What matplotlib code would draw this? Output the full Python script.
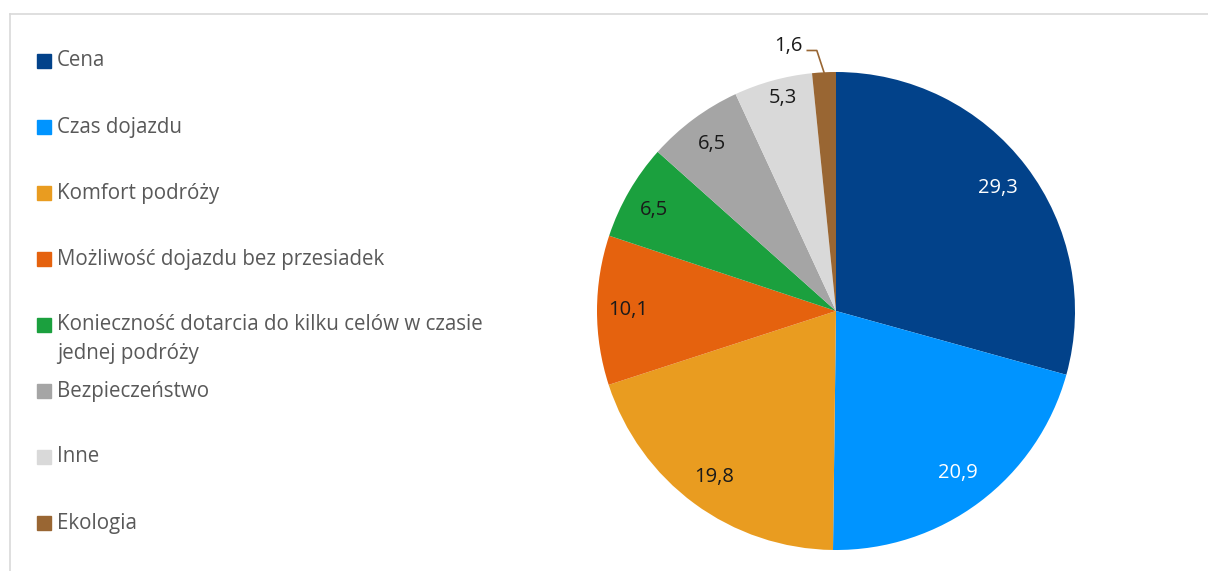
import matplotlib.pyplot as plt
from matplotlib.patches import Rectangle
from matplotlib.lines import Line2D
import numpy as np

plt.rcParams['font.family'] = ['Open Sans', 'DejaVu Sans']

categories = ["Cena", "Czas dojazdu", "Komfort podróży", "Możliwość dojazdu bez przesiadek",
              "Konieczność dotarcia do kilku celów w czasie\njednej podróży", "Bezpieczeństwo",
              "Inne", "Ekologia"]
values = [29.3, 20.9, 19.8, 10.1, 6.5, 6.5, 5.3, 1.6]
value_labels = ["29,3", "20,9", "19,8", "10,1", "6,5", "6,5", "5,3", "1,6"]
colors = ["#02428a", "#0094ff", "#e99c20", "#e5620e", "#1ba03e", "#a5a5a5", "#d9d9d9", "#996633"]
label_colors = ["white", "white", "#1a1a1a", "#1a1a1a", "#1a1a1a", "#1a1a1a", "#1a1a1a", "#1a1a1a"]
# label placement (fraction of radius); None = outside with leader line
label_radius = [0.85, 0.85, 0.86, 0.87, 0.87, 0.87, 0.92, None]
label_shift = [0, 0, 0, 0, 1, 0, -1.4, 0]

W, H = 1208, 571
fig = plt.figure(figsize=(W / 100, H / 100), dpi=100)

# pie: centre (836, 311), radius 239 px
cx, cy, R = 836, 311, 239
ax = fig.add_axes([(cx - R) / W, (H - cy - R) / H, 2 * R / W, 2 * R / H])
wedges, _ = ax.pie(values, colors=colors, startangle=90, counterclock=False, radius=1)
ax.set_xlim(-1, 1)
ax.set_ylim(-1, 1)
ax.set_aspect('equal')
ax.axis('off')

for w, lab, col, r, sh in zip(wedges, value_labels, label_colors, label_radius, label_shift):
    mid = np.deg2rad((w.theta1 + w.theta2) / 2 + sh)
    if r is None:
        # small slice: label outside with leader line
        x0, y0 = np.cos(mid), np.sin(mid)
        ax.plot([x0, x0 - 0.03, -0.12], [y0, 1.09, 1.09], color=w.get_facecolor(), lw=1.2,
                clip_on=False)
        ax.text(-0.14, 1.11, lab, ha='right', va='center', fontsize=14.5, color=col)
    else:
        ax.text(r * np.cos(mid), r * np.sin(mid), lab, ha='center', va='center',
                fontsize=14.5, color=col)

# legend drawn by hand
leg_y = [61, 127, 193, 259, 325, 391, 457, 523]
for y, cat, c in zip(leg_y, categories, colors):
    fig.add_artist(Rectangle((37 / W, (H - y - 7) / H), 14 / W, 14 / H, color=c,
                             transform=fig.transFigure))
    for i, line in enumerate(cat.split('\n')):
        fig.text(57 / W, (H - y - 28 * i) / H, line, ha='left', va='center',
                 fontsize=14.8, color='#595959')

# chart border (top and left only visible)
fig.add_artist(Line2D([10 / W, 1], [(H - 14) / H, (H - 14) / H], color='#d9d9d9', lw=1.2))
fig.add_artist(Line2D([10 / W, 10 / W], [(H - 14) / H, 0], color='#d9d9d9', lw=1.2))

fig.savefig("out.png", dpi=100)
